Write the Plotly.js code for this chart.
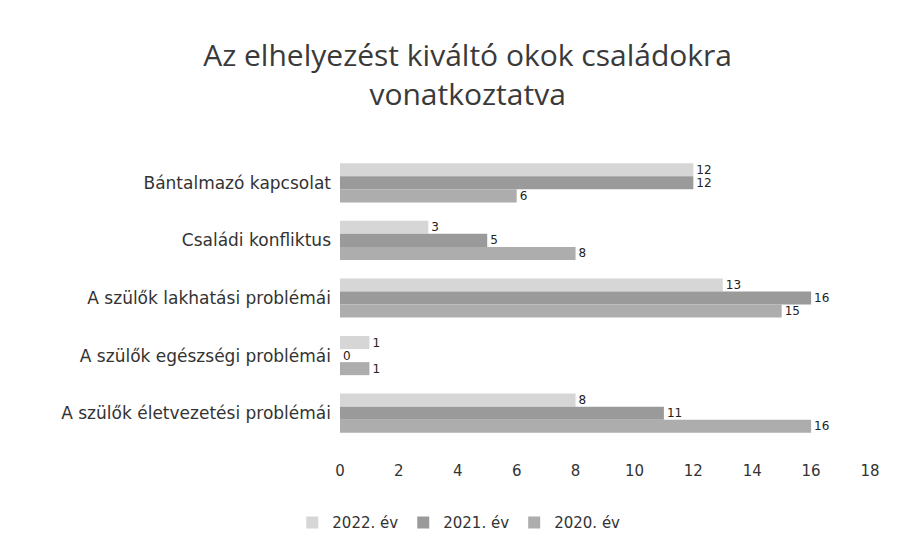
<!DOCTYPE html>
<html>
<head>
<meta charset="utf-8">
<script src="https://cdn.plot.ly/plotly-3.0.1.min.js"></script>
<style>html,body{margin:0;padding:0;background:#fff;}#chart{width:908px;height:553px;}</style>
</head>
<body>
<div id="chart"></div>
<script>
const categories = [
  "Bántalmazó kapcsolat",
  "Családi konfliktus",
  "A szülők lakhatási problémái",
  "A szülők egészségi problémái",
  "A szülők életvezetési problémái"
];
const seriesNames = ["2022. év", "2021. év", "2020. év"];
const values2022 = [12, 3, 13, 1, 8];
const values2021 = [12, 5, 16, 0, 11];
const values2020 = [6, 8, 15, 1, 16];
const tickValues = [0, 2, 4, 6, 8, 10, 12, 14, 16, 18];

const colors = ["#d6d6d6", "#9a9a9a", "#adadad"];
const allValues = [values2022, values2021, values2020];
const font = "Open Sans, Liberation Sans, sans-serif";
const labelFont = "DejaVu Sans, sans-serif";

const traces = allValues.map((vals, i) => ({
  type: "bar",
  orientation: "h",
  name: seriesNames[i],
  y: categories,
  x: vals,
  marker: {color: colors[i]},
  text: vals.map(String),
  textposition: "outside",
  constraintext: "none",
  cliponaxis: false,
  textfont: {family: labelFont, size: 12, color: "#222"}
}));

const layout = {
  width: 908, height: 553,
  paper_bgcolor: "#fff", plot_bgcolor: "#fff",
  margin: {l: 340, r: 38, t: 154, b: 111, autoexpand: false},
  title: {
    text: "Az elhelyezést kiváltó okok családokra<br>vonatkoztatva",
    font: {family: font, size: 30, color: "#3a3a3a"},
    x: 0.515, xref: "container", xanchor: "center",
    y: 0.88, yref: "container", yanchor: "top"
  },
  barmode: "group",
  bargap: 0.32,
  bargroupgap: 0,
  xaxis: {
    range: [0, 18],
    tickvals: tickValues,
    showgrid: false, zeroline: false, showline: false,
    ticks: "",
    automargin: false,
    ticklabelstandoff: 18,
    tickfont: {family: labelFont, size: 15, color: "#333"}
  },
  yaxis: {
    autorange: "reversed",
    showgrid: false, zeroline: false, showline: false,
    ticks: "",
    automargin: false,
    ticklabelstandoff: 8,
    tickfont: {family: labelFont, size: 17, color: "#333"}
  },
  legend: {
    orientation: "h",
    x: -0.09, xanchor: "left",
    y: -0.28, yanchor: "middle",
    font: {family: labelFont, size: 15, color: "#333"},
    traceorder: "normal"
  },
  showlegend: true
};

Plotly.newPlot("chart", traces, layout, {displayModeBar: false, staticPlot: true});
</script>
</body>
</html>
